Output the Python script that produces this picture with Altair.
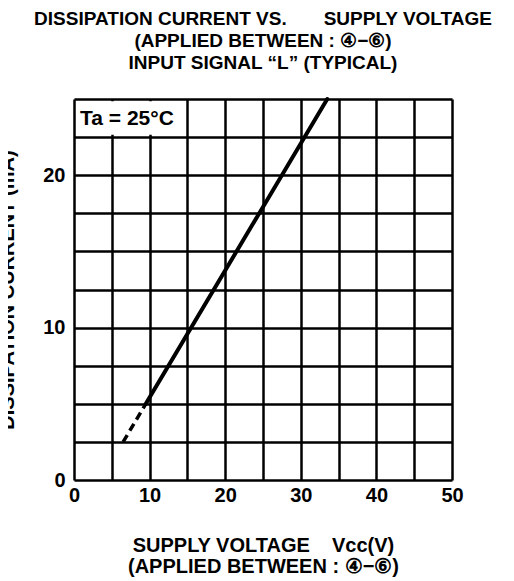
import altair as alt
import pandas as pd

# ---- data ----
dash_v = [6.5, 9.5]          # supply voltage (V), dashed extrapolation
dash_i = [2.5, 5.0]          # dissipation current (mA)
solid_v = [9.5, 33.5]        # supply voltage (V), measured range
solid_i = [5.0, 25.0]        # dissipation current (mA)

x_grid = [0, 5, 10, 15, 20, 25, 30, 35, 40, 45, 50]
y_grid = [0, 2.5, 5, 7.5, 10, 12.5, 15, 17.5, 20, 22.5, 25]

note_text = ["Ta = 25°C"]
note_x = [0.8]
note_y = [23.3]
box_x0, box_x1 = [0.35], [14.65]
box_y0, box_y1 = [22.65], [24.85]

title_lines = [
    "DISSIPATION CURRENT VS.\u00a0\u00a0\u00a0\u00a0\u00a0\u00a0\u00a0SUPPLY VOLTAGE",
    "(APPLIED BETWEEN : \u2463\u2212\u2465)",
    "INPUT SIGNAL \u201cL\u201d (TYPICAL)",
]
x_title = ["SUPPLY VOLTAGE\u00a0\u00a0\u00a0\u00a0Vcc(V)", "(APPLIED BETWEEN : \u2463\u2212\u2465)"]
y_title = "DISSIPATION CURRENT (mA)"

FONT = "Liberation Sans"
W, H = 378, 381

line_df = pd.DataFrame({
    "v": dash_v + solid_v,
    "i": dash_i + solid_i,
    "seg": ["dash"] * len(dash_v) + ["solid"] * len(solid_v),
})
box_df = pd.DataFrame({"v": box_x0, "v2": box_x1, "i": box_y0, "i2": box_y1})
note_df = pd.DataFrame({"v": note_x, "i": note_y, "t": note_text})

x_scale = alt.Scale(domain=[0, 50], nice=False, zero=False)
y_scale = alt.Scale(domain=[0, 25], nice=False, zero=False)

x_axis = alt.Axis(
    values=x_grid,
    labelExpr="datum.value % 10 == 0 ? datum.label : ''",
    grid=True, gridColor="black", gridWidth=2.5, gridOpacity=1,
    domain=False, ticks=False,
    labelFont=FONT, labelFontSize=20, labelFontWeight="bold", labelColor="black",
    labelPadding=5, labelFlush=False, labelOverlap=False,
    title=x_title, titleFont=FONT, titleFontSize=20, titleFontWeight="bold",
    titleColor="black", titleX=W / 2, titleY=71, titleAlign="center",
    titleBaseline="alphabetic", titleLineHeight=21,
)
y_axis = alt.Axis(
    values=y_grid,
    labelExpr="datum.value % 10 == 0 ? datum.label : ''",
    grid=True, gridColor="black", gridWidth=2.5, gridOpacity=1,
    domain=False, ticks=False,
    labelFont=FONT, labelFontSize=20, labelFontWeight="bold", labelColor="black",
    labelPadding=9, labelFlush=False, labelOverlap=False,
    title=y_title, titleFont=FONT, titleFontSize=20, titleFontWeight="bold",
    titleColor="black", titleAngle=270, titleX=-61, titleY=H / 2,
    titleAlign="center", titleBaseline="alphabetic",
)

X = lambda f: alt.X(f, scale=x_scale, axis=x_axis)
Y = lambda f: alt.Y(f, scale=y_scale, axis=y_axis)

solid = alt.Chart(line_df).transform_filter("datum.seg == 'solid'").mark_line(
    color="black", strokeWidth=4, strokeCap="round"
).encode(x=X("v:Q"), y=Y("i:Q"))

dashed = alt.Chart(line_df).transform_filter("datum.seg == 'dash'").mark_line(
    color="black", strokeWidth=3.5, strokeDash=[8, 5]
).encode(x=X("v:Q"), y=Y("i:Q"))

box = alt.Chart(box_df).mark_rect(color="white").encode(
    x=X("v:Q"), x2="v2:Q", y=Y("i:Q"), y2="i2:Q"
)

note = alt.Chart(note_df).mark_text(
    align="left", baseline="alphabetic", font=FONT, fontSize=21,
    fontWeight="bold", color="black"
).encode(x=X("v:Q"), y=Y("i:Q"), text="t:N")

chart = alt.layer(box, dashed, solid, note).properties(
    width=W, height=H,
    title=alt.TitleParams(
        text=title_lines, font=FONT, fontSize=19, fontWeight="bold",
        color="black", anchor="middle", frame="group", offset=16, lineHeight=22,
    ),
    autosize=alt.AutoSizeParams(type="none"),
    padding={"left": 66, "top": 91, "right": 50, "bottom": 98},
).configure_view(stroke="black", strokeWidth=4).configure(background="white")

chart.save("out.html", embed_options={"renderer": "svg", "actions": False})
